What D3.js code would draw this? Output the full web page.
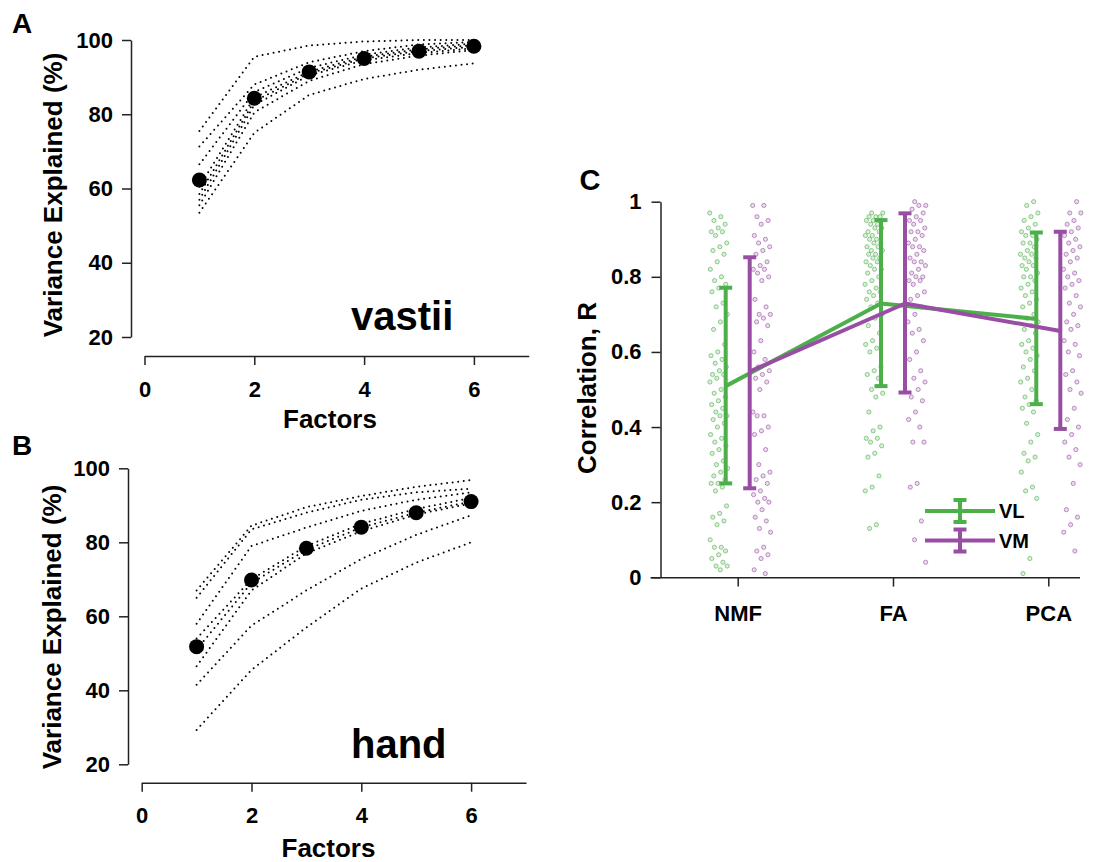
<!DOCTYPE html>
<html>
<head>
<meta charset="utf-8">
<script src="https://cdn.jsdelivr.net/npm/d3@7"></script>
<style>
    body { margin: 0; background: #fff; }
    svg { display: block; font-family: "Liberation Sans", Arial, sans-serif; font-weight: bold; }
    .axis path, .axis line { stroke: #222; stroke-width: 1.5; }
    .axis text { font-size: 22px; font-weight: bold; fill: #000; font-family: "Liberation Sans", Arial, sans-serif; }
</style>
</head>
<body>
<svg id="fig" width="1117" height="862"></svg>
<script>
// ---- data: panels A and B (variance explained per number of factors) ----
var factors = [1, 2, 3, 4, 5, 6];
var factorTicks = [0, 2, 4, 6];
var varianceTicks = [20, 40, 60, 80, 100];

var vastiiMean = [62.3, 84.3, 91.4, 95.0, 97.0, 98.3];
var vastiiSubjects = [
    [75.5, 95.5, 98.5, 99.6, 100, 100],
    [71.3, 88.0, 94.0, 97.0, 98.8, 99.5],
    [66.5, 86.0, 92.5, 96.0, 98.0, 99.0],
    [60.5, 84.5, 91.5, 95.5, 97.5, 98.6],
    [58.5, 83.5, 91.0, 95.0, 97.0, 98.2],
    [57.0, 82.5, 90.5, 94.5, 96.5, 97.8],
    [55.5, 80.5, 89.0, 93.5, 95.8, 97.3],
    [53.5, 75.0, 85.2, 89.5, 92.0, 93.7]
];

var handMean = [51.8, 69.8, 78.4, 84.1, 88.0, 91.0];
var handSubjects = [
    [67.0, 84.5, 89.5, 92.5, 95.0, 96.8],
    [65.0, 83.5, 88.0, 91.5, 93.5, 94.5],
    [58.0, 79.0, 84.0, 88.5, 91.5, 93.5],
    [54.0, 70.0, 79.0, 85.0, 89.0, 92.0],
    [51.0, 69.0, 78.0, 84.0, 88.0, 91.0],
    [46.5, 67.0, 77.0, 83.0, 87.5, 90.5],
    [41.5, 57.5, 67.0, 75.5, 82.0, 87.3],
    [29.3, 45.5, 57.0, 67.5, 74.5, 80.0]
];

// ---- data: panel C (correlation by method) ----
var methods = ["NMF", "FA", "PCA"];
var corrTicks = [0, 0.2, 0.4, 0.6, 0.8, 1];

var vlMean  = [0.509, 0.729, 0.688];
var vlUpper = [0.771, 0.951, 0.918];
var vlLower = [0.250, 0.509, 0.461];
var vmMean  = [0.548, 0.729, 0.656];
var vmUpper = [0.852, 0.969, 0.920];
var vmLower = [0.237, 0.492, 0.395];

var vlNMF = [0.97, 0.96, 0.95, 0.94, 0.93, 0.92, 0.92, 0.91, 0.89, 0.88, 0.87, 0.86, 0.84, 0.82, 0.80,
    0.79, 0.78, 0.77, 0.76, 0.73, 0.72, 0.70, 0.68, 0.66, 0.62, 0.60, 0.59, 0.58, 0.57, 0.56, 0.55,
    0.54, 0.54, 0.53, 0.52, 0.50, 0.49, 0.48, 0.47, 0.46, 0.45, 0.44, 0.43, 0.43, 0.42, 0.41, 0.40,
    0.38, 0.37, 0.36, 0.35, 0.34, 0.33, 0.31, 0.30, 0.29, 0.28, 0.27, 0.26, 0.25, 0.25, 0.24, 0.23,
    0.19, 0.17, 0.16, 0.15, 0.14, 0.10, 0.08, 0.08, 0.07, 0.06, 0.05, 0.04, 0.03, 0.03, 0.02];
var vmNMF = [0.99, 0.99, 0.96, 0.95, 0.94, 0.91, 0.90, 0.89, 0.88, 0.87, 0.86, 0.84, 0.83, 0.82, 0.82,
    0.81, 0.80, 0.79, 0.74, 0.72, 0.70, 0.70, 0.69, 0.68, 0.67, 0.63, 0.60, 0.58, 0.56, 0.55, 0.54,
    0.53, 0.52, 0.50, 0.44, 0.43, 0.43, 0.40, 0.39, 0.38, 0.34, 0.30, 0.28, 0.27, 0.26, 0.25, 0.23,
    0.22, 0.21, 0.20, 0.20, 0.18, 0.16, 0.15, 0.13, 0.12, 0.08, 0.07, 0.06, 0.05, 0.02, 0.01];
var vlFA = [0.97, 0.97, 0.96, 0.96, 0.96, 0.95, 0.95, 0.94, 0.94, 0.93, 0.93, 0.92, 0.92, 0.91, 0.91,
    0.90, 0.90, 0.89, 0.89, 0.88, 0.88, 0.87, 0.87, 0.86, 0.86, 0.85, 0.85, 0.84, 0.84, 0.83, 0.82,
    0.82, 0.81, 0.80, 0.79, 0.78, 0.77, 0.76, 0.76, 0.75, 0.74, 0.73, 0.72, 0.70, 0.69, 0.67, 0.65,
    0.63, 0.62, 0.61, 0.60, 0.56, 0.55, 0.54, 0.53, 0.50, 0.49, 0.48, 0.44, 0.40, 0.39, 0.37, 0.37,
    0.36, 0.35, 0.33, 0.32, 0.27, 0.24, 0.23, 0.14, 0.13];
var vmFA = [1.00, 0.99, 0.99, 0.98, 0.97, 0.96, 0.95, 0.95, 0.94, 0.93, 0.92, 0.92, 0.91, 0.90, 0.89,
    0.88, 0.88, 0.87, 0.86, 0.85, 0.84, 0.84, 0.83, 0.82, 0.81, 0.80, 0.80, 0.79, 0.79, 0.78, 0.76,
    0.75, 0.74, 0.72, 0.70, 0.68, 0.66, 0.65, 0.63, 0.60, 0.58, 0.55, 0.53, 0.52, 0.50, 0.48, 0.47,
    0.44, 0.42, 0.40, 0.36, 0.36, 0.25, 0.24, 0.15, 0.10, 0.04];
var vlPCA = [1.00, 0.99, 0.97, 0.96, 0.95, 0.94, 0.93, 0.92, 0.91, 0.91, 0.90, 0.89, 0.89, 0.88, 0.87,
    0.86, 0.86, 0.85, 0.85, 0.84, 0.83, 0.83, 0.82, 0.81, 0.80, 0.80, 0.79, 0.78, 0.77, 0.76, 0.75,
    0.74, 0.73, 0.72, 0.70, 0.69, 0.68, 0.67, 0.66, 0.65, 0.63, 0.62, 0.61, 0.60, 0.59, 0.58, 0.56,
    0.55, 0.53, 0.52, 0.50, 0.48, 0.47, 0.46, 0.45, 0.44, 0.41, 0.38, 0.36, 0.33, 0.32, 0.31, 0.28,
    0.24, 0.23, 0.21, 0.05, 0.01];
var vmPCA = [1.00, 0.97, 0.97, 0.95, 0.94, 0.93, 0.92, 0.91, 0.90, 0.89, 0.88, 0.87, 0.86, 0.85, 0.84,
    0.82, 0.81, 0.80, 0.79, 0.78, 0.77, 0.75, 0.73, 0.72, 0.70, 0.68, 0.67, 0.66, 0.63, 0.62, 0.60,
    0.59, 0.55, 0.54, 0.52, 0.50, 0.49, 0.45, 0.42, 0.40, 0.38, 0.36, 0.34, 0.32, 0.30, 0.25, 0.18,
    0.16, 0.14, 0.12, 0.07];

var GREEN = "#4daf4a", PURPLE = "#984ea3";

var svg = d3.select("#fig");

// draws one "variance explained" panel (A or B)
function variancePanel(opt) {
    var g = svg.append("g");
    var x = d3.scaleLinear().domain([0, 7]).range([opt.x0, opt.x0 + 7 * 54.9]);
    var y = d3.scaleLinear().domain([20, 100]).range([opt.yBottom, opt.yTop]);

    g.append("g").attr("class", "axis")
        .attr("transform", "translate(0," + opt.xAxisY + ")")
        .call(d3.axisBottom(x).tickValues(factorTicks).tickFormat(d3.format("d"))
            .tickSize(9).tickPadding(16).tickSizeOuter(0));
    g.append("g").attr("class", "axis")
        .attr("transform", "translate(" + opt.yAxisX + ",0)")
        .call(d3.axisLeft(y).tickValues(varianceTicks).tickFormat(d3.format("d"))
            .tickSize(9).tickPadding(9).tickSizeOuter(0));

    var line = d3.line()
        .x(function (d, i) { return x(factors[i]); })
        .y(function (d) { return y(d); });

    g.selectAll(".subject").data(opt.subjects).enter().append("path")
        .attr("class", "subject")
        .attr("d", line)
        .attr("fill", "none")
        .attr("stroke", "#000")
        .attr("stroke-width", 2)
        .attr("stroke-linecap", "round")
        .attr("stroke-dasharray", "0 5.6");

    g.selectAll(".mean").data(opt.mean).enter().append("circle")
        .attr("class", "mean")
        .attr("cx", function (d, i) { return x(factors[i]); })
        .attr("cy", function (d) { return y(d); })
        .attr("r", 7.5)
        .attr("fill", "#000");

    g.append("text")
        .attr("transform", "translate(" + opt.titleX + "," + opt.titleY + ") rotate(-90)")
        .attr("text-anchor", "middle").attr("dominant-baseline", "central")
        .style("font-size", "26px")
        .text("Variance Explained (%)");
    g.append("text")
        .attr("x", opt.factorsX).attr("y", opt.factorsY)
        .attr("text-anchor", "middle")
        .style("font-size", "26px")
        .text("Factors");
    g.append("text")
        .attr("x", 351).attr("y", opt.nameY)
        .style("font-size", "40px")
        .text(opt.name);
    g.append("text")
        .attr("x", 12).attr("y", opt.letterY)
        .style("font-size", "28px")
        .text(opt.letter);
}

variancePanel({
    subjects: vastiiSubjects, mean: vastiiMean, name: "vastii", letter: "A",
    x0: 144.5, yAxisX: 131, yTop: 40, yBottom: 337, xAxisY: 356,
    titleX: 53, titleY: 195, factorsX: 330, factorsY: 428, nameY: 330, letterY: 33
});
variancePanel({
    subjects: handSubjects, mean: handMean, name: "hand", letter: "B",
    x0: 141.7, yAxisX: 128, yTop: 468.3, yBottom: 764.3, xAxisY: 782.7,
    titleX: 52, titleY: 627, factorsX: 328.5, factorsY: 857, nameY: 758, letterY: 455
});

// ---- panel C ----
var xC = d3.scalePoint().domain(methods).range([737.7, 1048.3]);
var yC = d3.scaleLinear().domain([0, 1]).range([577.3, 201.7]);
var gC = svg.append("g");

gC.append("g").attr("class", "axis")
    .attr("transform", "translate(660.5,0)")
    .call(d3.axisLeft(yC).tickValues(corrTicks).tickSize(9).tickPadding(10)
        .tickFormat(function (d) { return (d === 0 || d === 1) ? String(d) : d.toFixed(1); })
        .tickSizeOuter(0));
var xAxisC = gC.append("g").attr("class", "axis")
    .attr("transform", "translate(0,577.3)")
    .call(d3.axisBottom(xC).tickSize(9.3).tickPadding(19).tickSizeOuter(0));
xAxisC.select(".domain").remove();
xAxisC.append("line").attr("x1", 650.5).attr("x2", 1080).attr("y1", 0.5).attr("y2", 0.5);

// jittered raw points
function scatter(groups, offset, color) {
    groups.forEach(function (vals, i) {
        gC.append("g").selectAll("circle").data(vals).enter().append("circle")
            .attr("cx", function (d, j) {
                var jit = ((j * 0.618034 + i * 0.37) % 1) - 0.5;
                return xC(methods[i]) + offset + jit * 18;
            })
            .attr("cy", function (d) { return yC(d); })
            .attr("r", 2.1)
            .attr("fill", color).attr("fill-opacity", 0.2)
            .attr("stroke", color).attr("stroke-opacity", 0.6).attr("stroke-width", 1);
    });
}
scatter([vlNMF, vlFA, vlPCA], -19, GREEN);
scatter([vmNMF, vmFA, vmPCA], 24, PURPLE);

function errorBar(g, cx, y1, y2, color) {
    g.append("line").attr("x1", cx).attr("x2", cx).attr("y1", y1).attr("y2", y2)
        .attr("stroke", color).attr("stroke-width", 4);
    [y1, y2].forEach(function (yy) {
        g.append("line").attr("x1", cx - 6.5).attr("x2", cx + 6.5).attr("y1", yy).attr("y2", yy)
            .attr("stroke", color).attr("stroke-width", 4);
    });
}

function series(mean, lower, upper, offset, color) {
    var g = gC.append("g");
    methods.forEach(function (m, i) {
        errorBar(g, xC(m) + offset, yC(upper[i]), yC(lower[i]), color);
    });
    g.append("path")
        .datum(mean)
        .attr("d", d3.line()
            .x(function (d, i) { return xC(methods[i]) + offset; })
            .y(function (d) { return yC(d); }))
        .attr("fill", "none").attr("stroke", color).attr("stroke-width", 4)
        .attr("stroke-linejoin", "round");
}
series(vlMean, vlLower, vlUpper, -12, GREEN);
series(vmMean, vmLower, vmUpper, 12, PURPLE);

// legend
var legend = gC.append("g");
[["VL", GREEN, 511], ["VM", PURPLE, 540.5]].forEach(function (item) {
    legend.append("line").attr("x1", 925).attr("x2", 995).attr("y1", item[2]).attr("y2", item[2])
        .attr("stroke", item[1]).attr("stroke-width", 4);
    errorBar(legend, 960, item[2] - 11, item[2] + 11, item[1]);
    legend.append("text").attr("x", 999).attr("y", item[2])
        .attr("dominant-baseline", "central")
        .style("font-size", "20px")
        .text(item[0]);
});

gC.append("text")
    .attr("transform", "translate(587,388) rotate(-90)")
    .attr("text-anchor", "middle").attr("dominant-baseline", "central")
    .style("font-size", "26px")
    .text("Correlation, R");
gC.append("text").attr("x", 579.5).attr("y", 190).style("font-size", "29px").text("C");
</script>
</body>
</html>
